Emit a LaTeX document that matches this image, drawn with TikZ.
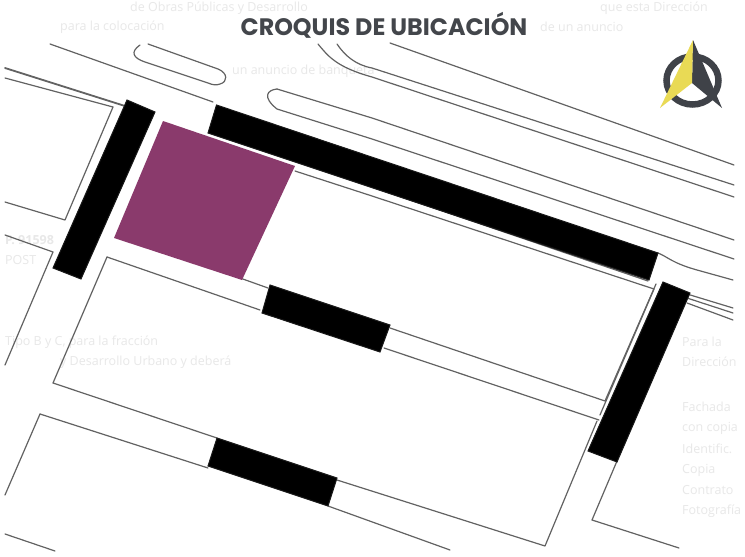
\documentclass[tikz,border=0pt]{standalone}
\usepackage{fontspec}
\setmainfont{Poppins}
\newfontfamily\ghostfont{Open Sans}
\definecolor{linegray}{HTML}{626262}
\definecolor{plum}{HTML}{8A3A6C}
\definecolor{ghost}{HTML}{E8E8E8}
\definecolor{inkgray}{HTML}{43464B}
\definecolor{compassdark}{HTML}{3F4248}
\definecolor{compassyellow}{HTML}{E9DA55}
\tikzset{
  plotline/.style={draw=linegray,line width=1.2pt,line join=round,line cap=round},
  blackbar/.style={fill=black,draw=black!80!gray,line width=1pt,line join=miter},
  ghosttext/.style={anchor=west,inner sep=0pt,text=ghost,font=\ghostfont\fontsize{12.5}{13}\selectfont},
  titletext/.style={inner sep=0pt,text=inkgray,font=\bfseries\fontsize{23.8}{26}\selectfont}
}
\begin{document}
\begin{tikzpicture}[x=1pt,y=-1pt]
\useasboundingbox (0,0) rectangle (745,557);
\fill[white] (0,0) rectangle (745,557);
% faint show-through of the printed text behind the sketch
\node[ghosttext] (g1) at (130,8) {de Obras Públicas y Desarrollo};
\node[ghosttext] (g2) at (600,8) {que esta Dirección};
\node[ghosttext] (g3) at (60,27) {para la colocación};
\node[ghosttext] (g3b) at (540,27) {de un anuncio};
\node[ghosttext] (g4) at (232,71) {un anuncio de banqueta};
\node[ghosttext] (g5) at (5,240) {\bfseries P. 91598};
\node[ghosttext] (g6) at (5,260) {POST};
\node[ghosttext] (g7) at (682,342) {Para la};
\node[ghosttext] (g8) at (5,342) {Tipo B y C, para la fracción};
\node[ghosttext] (g9) at (682,362) {Dirección};
\node[ghosttext] (g10) at (60,362) {y Desarrollo Urbano y deberá};
\node[ghosttext] (g11) at (682,407) {Fachada};
\node[ghosttext] (g12) at (682,428) {con copia};
\node[ghosttext] (g13) at (682,449) {Identific.};
\node[ghosttext] (g14) at (682,470) {Copia};
\node[ghosttext] (g15) at (682,490) {Contrato};
\node[ghosttext] (g16) at (682,511) {Fotografía};

% streets and blocks, upper part
\draw[plotline] (50,44) -- (213,102);
\draw[plotline] (148,44) -- (218,69) .. controls (228,73) and (228,82) .. (220,84) .. controls (216,85.5) and (213,85) .. (208,83) -- (145,62) .. controls (133,58) and (130,52) .. (140,45);
\draw[plotline] (318,44) .. controls (328,56) and (336,67) .. (372,77) -- (734,197);
\draw[plotline] (337,44) .. controls (345,56) and (356,65) .. (372,68) -- (734,185);
\draw[plotline] (390,43) -- (734,165);
\draw[plotline] (277,89) -- (372,118) -- (734,240);
\draw[plotline] (277,89) .. controls (267,90) and (262,97) .. (277,109) -- (372,139) -- (734,259);
\draw[plotline] (658,253) .. controls (668,257) and (672,263) .. (697,270) -- (733,280);
\draw[plotline] (687,294) -- (733,308);
\draw[plotline] (687,298) -- (733,313);
\draw[plotline] (687,303) -- (733,320);

% streets below the long bar
\draw[plotline] (295,171) -- (372,196) -- (654,289) -- (600,415);
\draw[plotline] (372,187) -- (648,281);
\draw[plotline] (656,284) -- (605,401) -- (390,328);
\draw[plotline] (268,288) -- (240,278);
\draw[plotline] (107,257) -- (260,310);
\draw[plotline] (384,348) -- (599,420);
\draw[plotline] (107,257) -- (53,383) -- (217,438);
\draw[plotline] (337,480) -- (545,546) -- (597,421);
\draw[plotline] (617,461) -- (592,520) -- (679,548);
\draw[plotline] (40,414) -- (208,468);
\draw[plotline] (40,414) -- (5,495);
\draw[plotline] (328,506) -- (450,550);
\draw[plotline] (5,534) -- (55,551);

% left side blocks
\draw[plotline,line width=1.8pt] (5,68) -- (125,106);
\draw[plotline] (5,78) -- (113,107) -- (65,220) -- (5,202);
\draw[plotline] (5,235) -- (53,252) -- (5,365);

% plot
\fill[plum] (163,121) -- (295,166) -- (242,280) -- (114,238) -- cycle;

% black bars
\fill[blackbar] (216.5,105) -- (658,253) -- (649,280) -- (208,133) -- cycle;
\fill[blackbar] (127,100) -- (155,112) -- (81,279) -- (53,268) -- cycle;
\fill[blackbar] (270,285) -- (390,325) -- (380,352) -- (262,313) -- cycle;
\fill[blackbar] (217,438) -- (337,478) -- (328,506) -- (208,466) -- cycle;
\fill[blackbar] (663,282) -- (690,293) -- (617,462) -- (588,451) -- cycle;

% north arrow
\draw[compassdark,line width=6.5pt] (692.5,80.5) ellipse [x radius=26,y radius=24];
\fill[compassdark] (693,40) -- (722,108) -- (692,83) -- cycle;
\fill[compassyellow] (693,40) -- (660,108) -- (692,83) -- cycle;

% title
\node[titletext] (title) at (384,25) {CROQUIS DE UBICACIÓN};
\end{tikzpicture}
\end{document}
